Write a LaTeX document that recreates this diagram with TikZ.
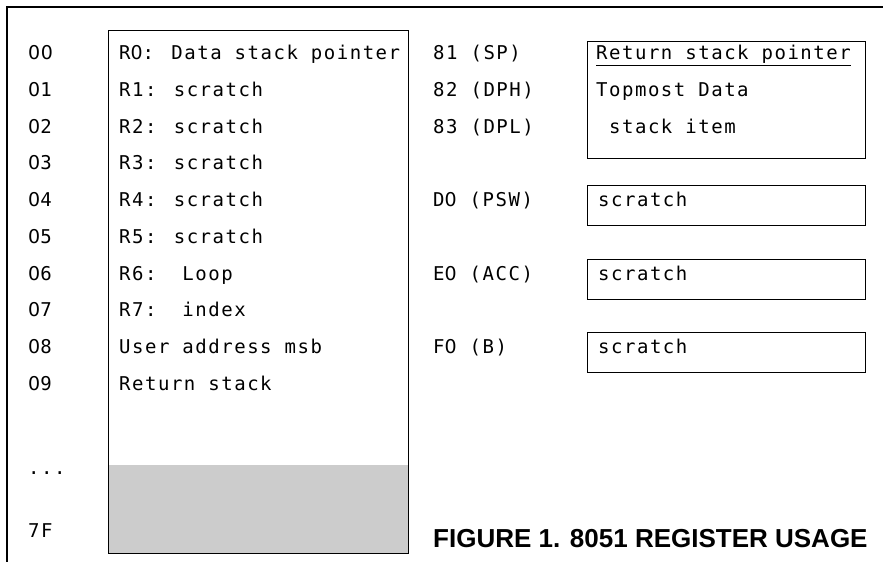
\documentclass[tikz,border=0pt]{standalone}
\usepackage{fontspec}
\newfontfamily\regmono{DejaVu Sans Mono}[LetterSpace=8]
\newfontfamily\plainsans{DejaVu Sans}[LetterSpace=3]
\newfontfamily\capfont{Liberation Sans}
\newcommand{\Zr}{{\plainsans 0}}
\begin{document}
\begin{tikzpicture}[x=1pt,y=-1pt,
  lbl/.style={anchor=base west, inner sep=0pt, font=\regmono\fontsize{19}{22}\selectfont},
  regbox/.style={draw, line width=1.4pt, inner sep=0pt, anchor=north west},
  shadebox/.style={fill=black!20, draw=none, inner sep=0pt, anchor=north west},
  captxt/.style={anchor=base west, inner sep=0pt, font=\capfont\bfseries\fontsize{26}{30}\selectfont}]
\useasboundingbox (0,0) rectangle (883,562);
% outer frame (top and left edges only)
\coordinate (ftr) at (883,7);
\coordinate (ftl) at (7,7);
\coordinate (fbl) at (7,562);
\draw[line width=1.4pt] (ftr) -- (ftl) -- (fbl);
% main register block
\node[shadebox, minimum width=300pt, minimum height=88pt] (shade) at (108,465) {};
\node[regbox, minimum width=300pt, minimum height=523pt] (mainbox) at (108,30) {};
% right-hand boxes
\node[regbox, minimum width=278pt, minimum height=117pt] (sfrA) at (587,41) {};
\node[regbox, minimum width=278pt, minimum height=40pt] (sfrB) at (587,{53+36.75*4-15}) {};
\node[regbox, minimum width=278pt, minimum height=40pt] (sfrC) at (587,{53+36.75*6-15}) {};
\node[regbox, minimum width=278pt, minimum height=40pt] (sfrD) at (587,{53+36.75*8-15}) {};
% address column
\node[lbl] (a00) at (28,59.5) {\Zr\Zr};
\foreach \t in {1,2,3,4,5,6,7,8,9}
  \node[lbl] (a0\t) at (28,{59.5+36.75*\t}) {\Zr\t};
\node[lbl] (adots) at (28,474) {...};
\node[lbl] (a7F) at (28,537.5) {7F};
% register contents
\node[lbl] (r0) at (119,{59.5+36.75*0}) {R\Zr: Data stack pointer};
\node[lbl] (r1) at (119,{59.5+36.75*1}) {R1: scratch};
\node[lbl] (r2) at (119,{59.5+36.75*2}) {R2: scratch};
\node[lbl] (r3) at (119,{59.5+36.75*3}) {R3: scratch};
\node[lbl] (r4) at (119,{59.5+36.75*4}) {R4: scratch};
\node[lbl] (r5) at (119,{59.5+36.75*5}) {R5: scratch};
\node[lbl] (r6) at (119,{59.5+36.75*6}) {R6:\ \ Loop};
\node[lbl] (r7) at (119,{59.5+36.75*7}) {R7:\ \ index};
\node[lbl] (r8) at (119,{59.5+36.75*8}) {User address msb};
\node[lbl] (r9) at (119,{59.5+36.75*9}) {Return stack};
% SFR addresses
\node[lbl] (s81) at (433,{59.5+36.75*0}) {81 (SP)};
\node[lbl] (s82) at (433,{59.5+36.75*1}) {82 (DPH)};
\node[lbl] (s83) at (433,{59.5+36.75*2}) {83 (DPL)};
\node[lbl] (sD0) at (433,{59.5+36.75*4}) {D\Zr{} (PSW)};
\node[lbl] (sE0) at (433,{59.5+36.75*6}) {E\Zr{} (ACC)};
\node[lbl] (sF0) at (433,{59.5+36.75*8}) {F\Zr{} (B)};
% SFR contents
\node[lbl] (c81) at (596,{59.5+36.75*0}) {\underline{Return stack pointer}};
\node[lbl] (c82) at (596,{59.5+36.75*1}) {Topmost Data};
\node[lbl] (c83) at (596,{59.5+36.75*2}) {\ stack item};
\node[lbl] (cD0) at (598,{59.5+36.75*4}) {scratch};
\node[lbl] (cE0) at (598,{59.5+36.75*6}) {scratch};
\node[lbl] (cF0) at (598,{59.5+36.75*8}) {scratch};
% caption
\node[captxt] (cap) at (433,547) {FIGURE 1. 8051 REGISTER USAGE};
\end{tikzpicture}
\end{document}
